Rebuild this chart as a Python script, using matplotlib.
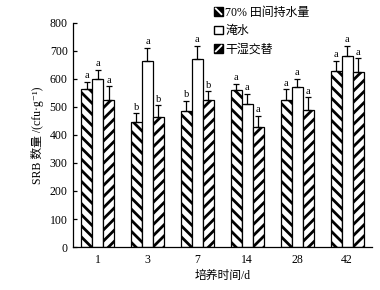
import numpy as np
import matplotlib.pyplot as plt
from matplotlib.patches import Rectangle
from matplotlib.lines import Line2D
from matplotlib.legend_handler import HandlerBase

plt.rcParams['font.family'] = ['Liberation Serif', 'Noto Sans CJK SC', 'DejaVu Serif']
plt.rcParams['hatch.linewidth'] = 2.0

days = ['1', '3', '7', '14', '28', '42']
labels = ['70% 田间持水量', '淹水', '干湿交替']

# SRB counts and standard errors
field70 = [563, 447, 484, 559, 524, 629]
field70_err = [25, 30, 36, 23, 38, 35]
flooded = [600, 663, 672, 509, 570, 682]
flooded_err = [32, 48, 46, 37, 30, 36]
wetdry = [525, 462, 524, 429, 489, 624]
wetdry_err = [48, 43, 31, 39, 45, 49]

sig = [['a', 'b', 'b', 'a', 'a', 'a'],
       ['a', 'a', 'a', 'a', 'a', 'a'],
       ['a', 'b', 'b', 'a', 'a', 'a']]


class BoxHandler(HandlerBase):
    # small square legend icon, black with a white diagonal or plain white
    def __init__(self, kind):
        super().__init__()
        self.kind = kind

    def create_artists(self, legend, orig_handle, xdescent, ydescent,
                       width, height, fontsize, trans):
        s = min(width, height)
        x0 = -xdescent + (width - s) / 2
        y0 = -ydescent + (height - s) / 2
        fc = 'white' if self.kind == 'none' else 'black'
        r = Rectangle((x0, y0), s, s, facecolor=fc, edgecolor='black',
                      linewidth=1.0, transform=trans)
        arts = [r]
        if self.kind == 'back':
            arts.append(Line2D([x0 + 1, x0 + s - 1], [y0 + s - 1, y0 + 1],
                               color='white', linewidth=1.3, transform=trans))
        elif self.kind == 'fwd':
            arts.append(Line2D([x0 + 1, x0 + s - 1], [y0 + 1, y0 + s - 1],
                               color='white', linewidth=1.3, transform=trans))
        return arts


fig = plt.figure(figsize=(3.8, 2.9), dpi=100)
ax = fig.add_axes([0.191, 0.148, 0.788, 0.774])

x = np.arange(len(days))
w = 0.22
series = [field70, flooded, wetdry]
errs = [field70_err, flooded_err, wetdry_err]
hatches = ['\\\\\\', '', '///']
handles = []
for i in range(3):
    pos = x + (i - 1) * w
    b = ax.bar(pos, series[i], w, color='white', edgecolor='black',
               linewidth=0.9, hatch=hatches[i], label=labels[i])
    handles.append(b)
    ax.errorbar(pos, series[i], yerr=[np.zeros(6), errs[i]], fmt='none',
                ecolor='black', elinewidth=0.9, capsize=2.5, capthick=0.9)
    for j in range(6):
        ax.text(pos[j], series[i][j] + errs[i][j] + 6, sig[i][j],
                ha='center', va='bottom', fontsize=7.5)

ax.set_xlim(-0.5, 5.5)
ax.set_ylim(0, 800)
ax.set_yticks(range(0, 801, 100))
ax.set_xticks(x)
ax.set_xticklabels(days)
ax.tick_params(axis='y', direction='in', length=3, labelsize=8.5, width=0.9)
ax.tick_params(axis='x', length=0, labelsize=8.5, pad=5)
ax.spines['top'].set_visible(False)
ax.spines['right'].set_visible(False)
for s in ['left', 'bottom']:
    ax.spines[s].set_linewidth(0.9)

ax.set_ylabel('SRB 数量 /(cfu·g⁻¹)', fontsize=8.5, labelpad=4)
ax.set_xlabel('培养时间/d', fontsize=8.5, labelpad=3)

fig.legend(handles=handles, labels=labels, loc='upper left',
           bbox_to_anchor=(0.547, 1.0), frameon=False, fontsize=8.6,
           handlelength=0.7, handleheight=0.7, handletextpad=0.2,
           labelspacing=0.55, borderaxespad=0.15,
           handler_map={handles[0]: BoxHandler('back'),
                        handles[1]: BoxHandler('none'),
                        handles[2]: BoxHandler('fwd')})

fig.savefig('out.png', dpi=100)
